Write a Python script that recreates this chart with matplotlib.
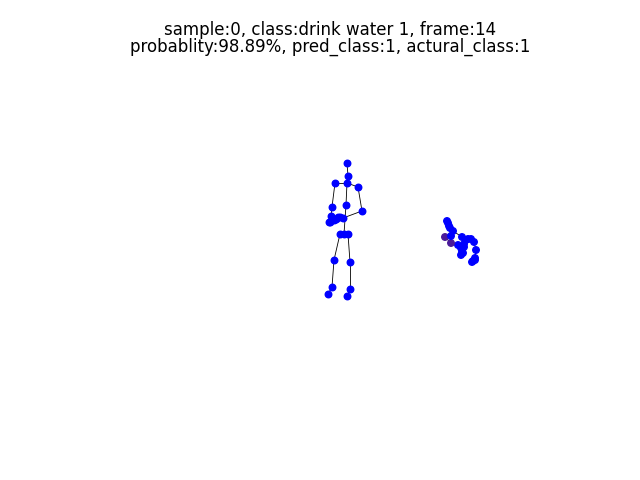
import matplotlib
matplotlib.use("Agg")
import matplotlib.pyplot as plt

# NTU RGB+D joints (25), projected screen coords, one frame, two bodies
BONES = [(1, 2), (2, 21), (21, 3), (3, 4), (21, 5), (5, 6), (6, 7), (7, 8),
         (8, 22), (7, 23), (21, 9), (9, 10), (10, 11), (11, 12), (12, 24),
         (11, 25), (1, 13), (13, 14), (14, 15), (15, 16), (1, 17), (17, 18),
         (18, 19), (19, 20)]

body1_x = [344, 346, 348, 347, 335, 332, 331, 330, 358, 362, 343, 338, 340,
           334, 332, 328, 348, 350, 350, 347, 347, 329, 334, 336, 340]
body1_y = [234, 205, 176, 163, 183, 207, 216, 222, 187, 211, 218, 217, 234,
           260, 287, 294, 234, 262, 289, 296, 183, 222, 220, 219, 217]

body2_x = [461, 464, 468, 471, 462, 453, 450, 448, 474, 476, 475, 473, 458,
           451, 445, 451, 464, 462, 461, 463, 466, 447, 449, 472, 475]
body2_y = [248, 244, 239, 239, 237, 231, 228, 223, 242, 250, 258, 261, 245,
           243, 237, 236, 247, 252, 255, 253, 240, 221, 226, 262, 260]
body2_dark = [14, 15]  # joints that render darker (further back)

title = ("sample:0, class:drink water 1, frame:14\n"
         "probablity:98.89%, pred_class:1, actural_class:1")

fig, ax = plt.subplots(figsize=(6.4, 4.8), dpi=100)

for xs, ys in [(body1_x, body1_y), (body2_x, body2_y)]:
    for a, b in BONES:
        ax.plot([xs[a - 1], xs[b - 1]], [ys[a - 1], ys[b - 1]],
                color="black", linewidth=0.6, zorder=1)

ax.scatter(body1_x, body1_y, s=22, color="blue", zorder=2)
cols2 = ["#4a1a9a" if i + 1 in body2_dark else "blue" for i in range(25)]
ax.scatter(body2_x, body2_y, s=22, color=cols2, zorder=2)

ax.set_xlim(80, 576)
ax.set_ylim(427.2, 57.6)
ax.axis("off")
ax.set_title(title, x=0.505, linespacing=0.95, pad=4)

fig.savefig("out.png", dpi=100)
